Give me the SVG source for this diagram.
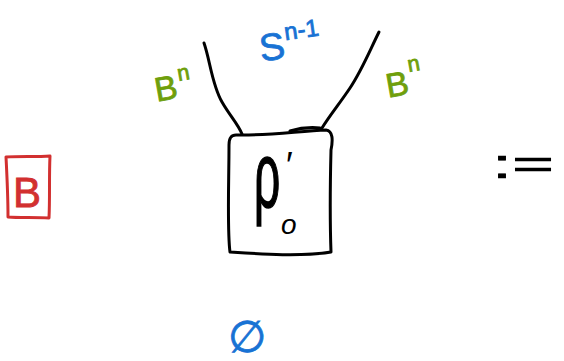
<svg xmlns="http://www.w3.org/2000/svg" width="564" height="361" viewBox="0 0 564 361">
<style>
.ink{fill:none;stroke:#000;stroke-width:3;stroke-linecap:round;stroke-linejoin:round}
.g{fill:#6f9f0c;stroke:#6f9f0c;stroke-width:0.8;font-family:"Liberation Sans",sans-serif}
.b{fill:#1872d4;stroke:#1872d4;stroke-width:0.8;font-family:"Liberation Sans",sans-serif}
.k{fill:#000;font-family:"Liberation Sans",sans-serif}
</style>
<rect width="564" height="361" fill="#fff"/>
<g id="connectors">
<path class="ink" d="M204,43 C210,60 212,85 222,102 C230,116 238,124 242,134"/>
<path class="ink" d="M379,32 C370,50 362,70 350,88 C340,103 330,115 322,128"/>
</g>
<g id="box">
<path class="ink" d="M236,135 C265,136 300,131 326,130 C333,131 333,140 331,150 C330,190 330,225 331,252 C300,257 260,254 230,252 C227,230 229,180 229,145 C229,138 231,135 236,135 Z"/>
<path class="ink" d="M290,131 C300,128 310,127 320,128"/>
<text class="k" x="0" y="0" font-size="46" stroke="#000" stroke-width="0.8" transform="translate(254,207) scale(1,2)">ρ</text>
<text class="k" x="286" y="178" font-size="36">′</text>
<text class="k" x="281" y="234" font-size="28" font-style="italic">o</text>
</g>
<g id="sphere-label">
<text class="b" x="259" y="60" font-size="38" transform="rotate(-8 270 45)">S</text>
<text class="b" x="284" y="38" font-size="24" transform="rotate(-8 300 30)">n-1</text>
</g>
<g id="ball-left">
<text class="g" x="154" y="100" font-size="34" transform="rotate(-10 166 85)">B</text>
<text class="g" x="177" y="80" font-size="22" transform="rotate(-10 183 72)">n</text>
</g>
<g id="ball-right">
<text class="g" x="385" y="96" font-size="34" transform="rotate(-10 396 80)">B</text>
<text class="g" x="407" y="71" font-size="22" transform="rotate(-10 414 62)">n</text>
</g>
<g id="B-box">
<path d="M6,157 C20,156 36,157 50,156 C49,176 50,198 49,218 C35,217 20,218 8,217 C8,198 7,176 6,157 Z" fill="none" stroke="#d23030" stroke-width="3" stroke-linejoin="round"/>
<text x="13" y="207" font-size="42" fill="#d23030" stroke="#d23030" stroke-width="0.8" font-family="Liberation Sans,sans-serif">B</text>
</g>
<g id="empty">
<text class="b" x="228" y="352" font-size="44" font-family="DejaVu Sans,sans-serif">∅</text>
</g>
<g id="defeq">
<text class="k" x="0" y="0" font-size="40" stroke="#000" stroke-width="0.6" transform="translate(492,178) scale(1.8,1)">:=</text>
</g>
</svg>
